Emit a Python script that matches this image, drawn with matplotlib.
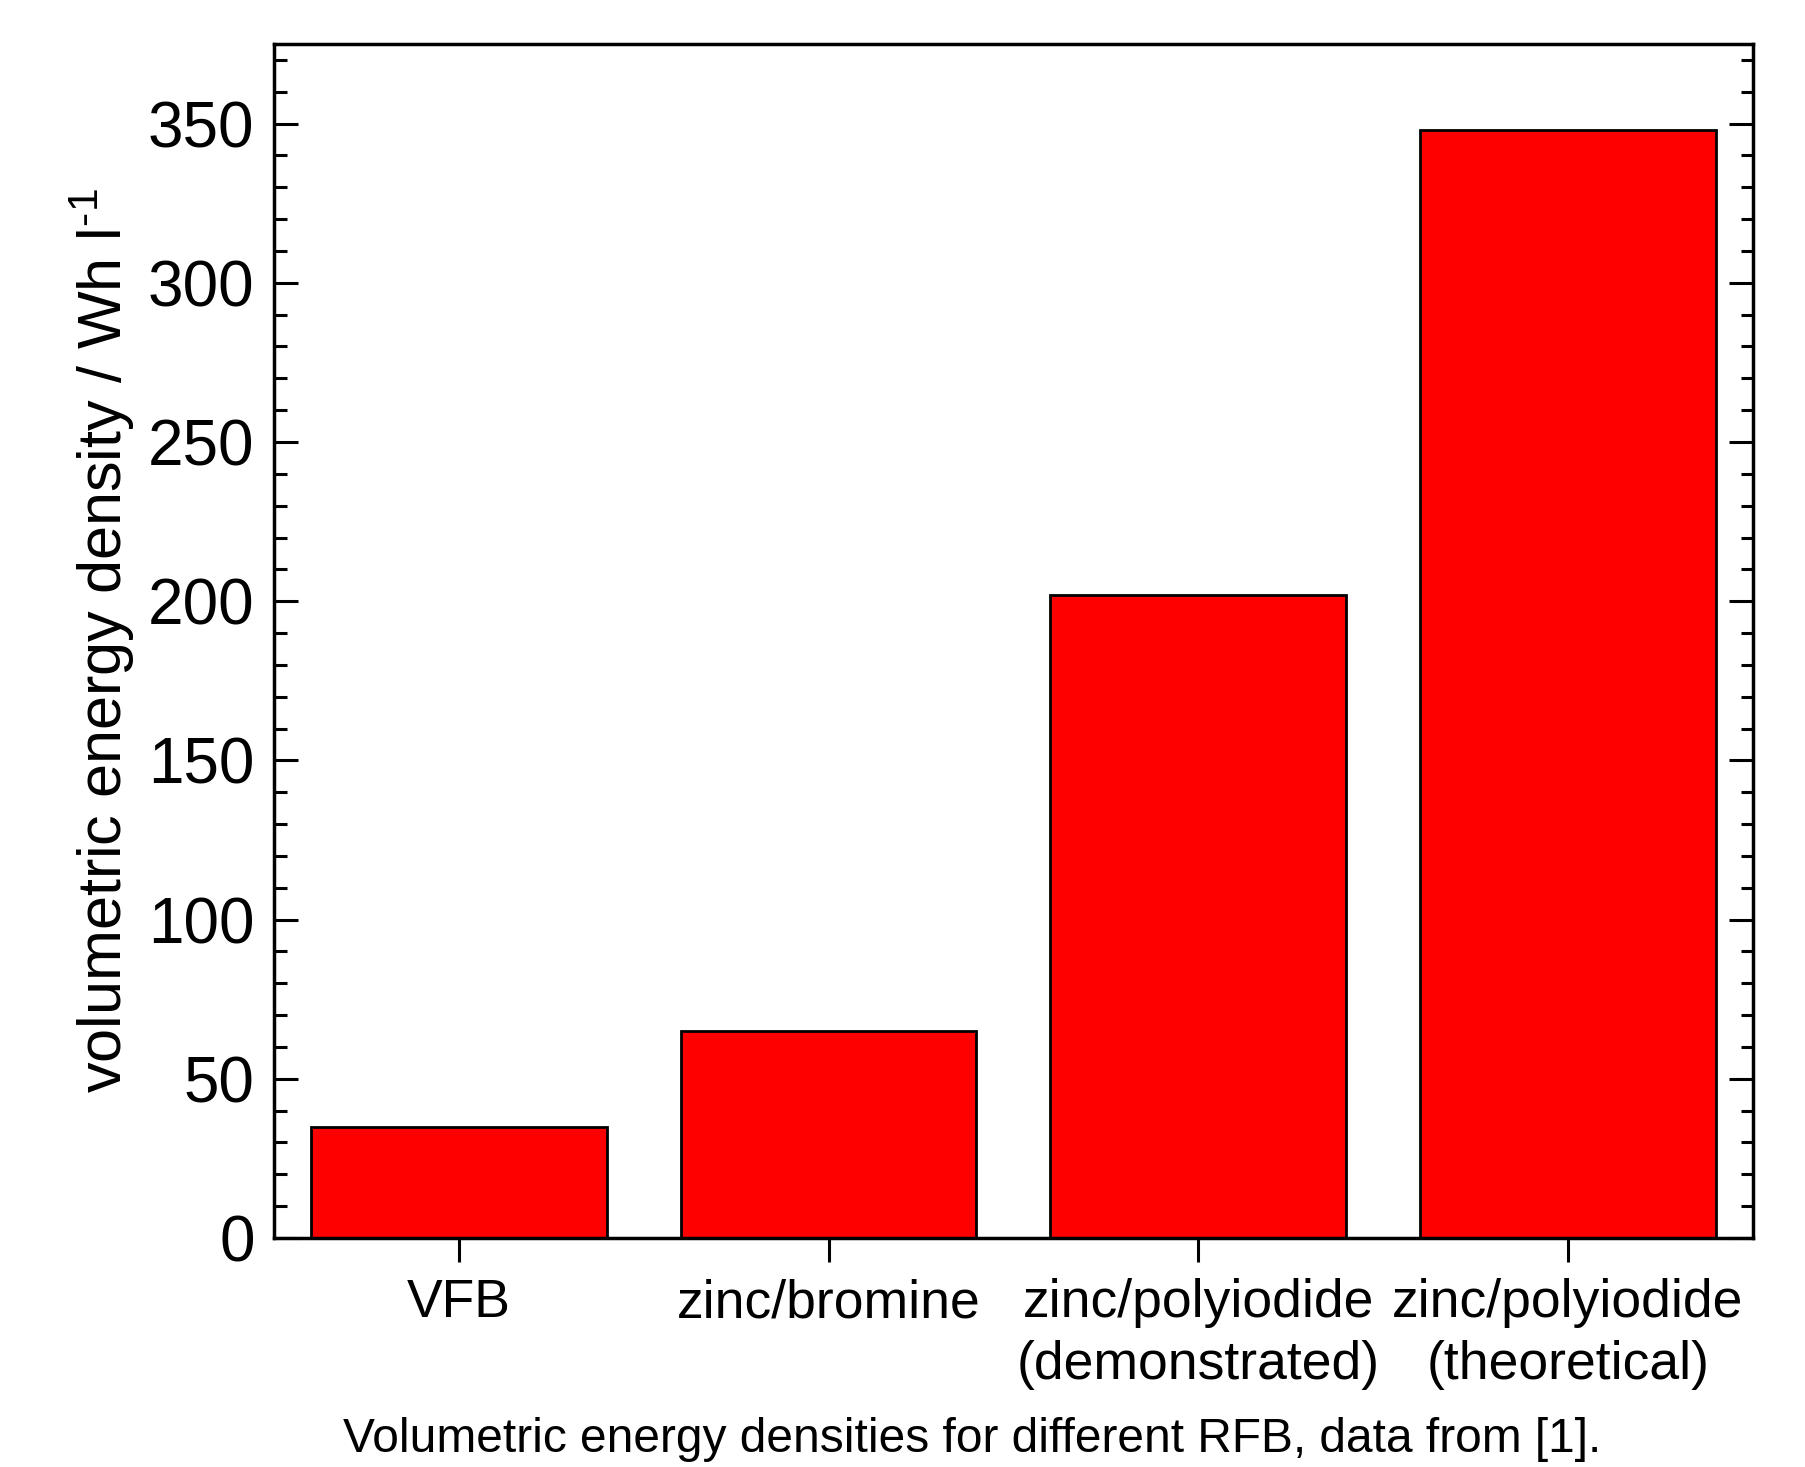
import matplotlib
matplotlib.use("Agg")
import matplotlib.pyplot as plt
import numpy as np
from matplotlib.ticker import MultipleLocator

plt.rcParams['font.family'] = ['Liberation Sans', 'DejaVu Sans']
plt.rcParams['mathtext.fontset'] = 'custom'
plt.rcParams['mathtext.rm'] = 'Liberation Sans'

categories = ['VFB', 'zinc/bromine', 'zinc/polyiodide\n(demonstrated)',
              'zinc/polyiodide\n(theoretical)']
energy_density = [35, 65, 202, 348]

fig = plt.figure(figsize=(18.06, 14.67), dpi=100)
ax = fig.add_axes([0.1517, 0.1561, 0.8189, 0.8139])

x = np.arange(len(categories))
ax.bar(x, energy_density, width=0.8, color='#ff0000', edgecolor='black',
       linewidth=2.0, zorder=2)

ax.set_xlim(-0.5, 3.5)
ax.set_ylim(0, 375)
ax.set_xticks(x, categories, fontsize=38.5, linespacing=1.3)
ax.yaxis.set_major_locator(MultipleLocator(50))
ax.yaxis.set_minor_locator(MultipleLocator(10))

ax.tick_params(axis='y', which='both', direction='in', left=True, right=True,
               labelsize=46, pad=14)
ax.tick_params(axis='y', which='major', length=17, width=2.2)
ax.tick_params(axis='y', which='minor', length=9, width=2.2)
ax.tick_params(axis='x', which='major', direction='out', length=17, width=2.2,
               pad=12)

for side in ax.spines.values():
    side.set_linewidth(2.5)

ax.set_ylabel(r'volumetric energy density / Wh l$^{\text{-1}}$', fontsize=44,
              labelpad=8)

fig.text(0.538, 0.019, 'Volumetric energy densities for different RFB, data from [1].',
         ha='center', va='center', fontsize=34.5)

fig.savefig('out.png', dpi=100)
